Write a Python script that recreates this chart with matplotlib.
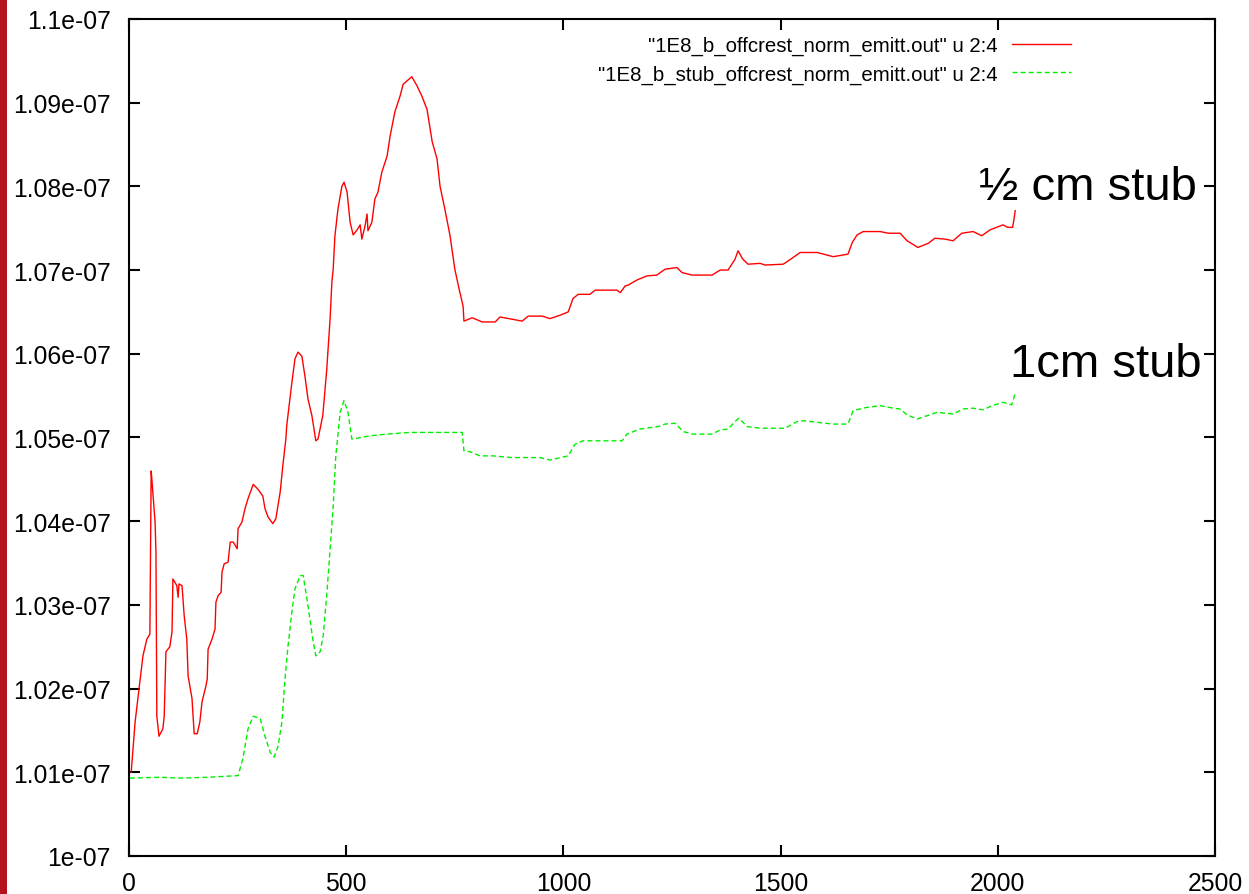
import matplotlib
matplotlib.use("Agg")
import matplotlib.pyplot as plt
from matplotlib.patches import Rectangle
from matplotlib.ticker import FuncFormatter

plt.rcParams['font.family'] = ['Liberation Sans', 'DejaVu Sans']

# column 2 vs column 4 of the two emittance files (y in units of 1e-7)
red_x = [5, 14, 25, 32, 41, 48, 51, 53, 60, 62, 64, 69, 78, 81, 85, 94, 99, 101, 110, 113,
         115, 122, 127, 133, 136, 145, 150, 157, 163, 168, 177, 180, 182, 191, 198, 200, 205,
         212, 214, 219, 228, 233, 240, 249, 251, 260, 267, 274, 286, 297, 308, 313, 320, 331,
         338, 348, 354, 361, 363, 375, 382, 389, 398, 405, 412, 421, 430, 435, 446, 455, 463,
         467, 470, 474, 481, 490, 495, 502, 509, 516, 525, 532, 536, 543, 548, 550, 559, 566,
         573, 582, 594, 601, 612, 624, 631, 642, 651, 663, 674, 686, 698, 709, 716, 727, 739,
         750, 760, 769, 771, 790, 813, 843, 854, 884, 905, 919, 951, 969, 992, 1011, 1022,
         1034, 1061, 1073, 1123, 1131, 1142, 1149, 1169, 1192, 1215, 1234, 1261, 1273, 1296,
         1342, 1361, 1379, 1395, 1402, 1413, 1425, 1453, 1464, 1506, 1526, 1545, 1568, 1584,
         1621, 1655, 1665, 1676, 1690, 1729, 1748, 1775, 1791, 1816, 1840, 1855, 1878, 1897,
         1917, 1943, 1963, 1982, 2012, 2023, 2034, 2037, 2040]
red_y = [1.0100, 1.0160, 1.0208, 1.0239, 1.0259, 1.0265, 1.0460, 1.0447, 1.0399, 1.0363,
         1.0167, 1.0143, 1.0152, 1.0167, 1.0244, 1.0250, 1.0268, 1.0331, 1.0323, 1.0309,
         1.0325, 1.0323, 1.0287, 1.0259, 1.0215, 1.0188, 1.0146, 1.0146, 1.0160, 1.0184,
         1.0203, 1.0211, 1.0247, 1.0259, 1.0271, 1.0303, 1.0311, 1.0315, 1.0339, 1.0349,
         1.0351, 1.0375, 1.0375, 1.0367, 1.0391, 1.0399, 1.0415, 1.0427, 1.0444, 1.0438,
         1.0430, 1.0415, 1.0405, 1.0397, 1.0403, 1.0435, 1.0466, 1.0498, 1.0514, 1.0566,
         1.0594, 1.0602, 1.0597, 1.0573, 1.0546, 1.0526, 1.0496, 1.0498, 1.0526, 1.0580,
         1.0643, 1.0686, 1.0701, 1.0741, 1.0773, 1.0800, 1.0805, 1.0793, 1.0757, 1.0742,
         1.0748, 1.0754, 1.0737, 1.0752, 1.0767, 1.0747, 1.0757, 1.0785, 1.0793, 1.0817,
         1.0836, 1.0860, 1.0889, 1.0908, 1.0922, 1.0927, 1.0931, 1.0920, 1.0908, 1.0892,
         1.0853, 1.0833, 1.0800, 1.0773, 1.0741, 1.0701, 1.0677, 1.0657, 1.0639, 1.0643,
         1.0638, 1.0638, 1.0644, 1.0641, 1.0639, 1.0645, 1.0645, 1.0642, 1.0646, 1.0650,
         1.0666, 1.0671, 1.0671, 1.0676, 1.0676, 1.0673, 1.0681, 1.0682, 1.0688, 1.0693,
         1.0694, 1.0701, 1.0703, 1.0697, 1.0694, 1.0694, 1.0700, 1.0700, 1.0713, 1.0723,
         1.0713, 1.0707, 1.0708, 1.0706, 1.0707, 1.0714, 1.0721, 1.0721, 1.0721, 1.0716,
         1.0719, 1.0733, 1.0742, 1.0746, 1.0746, 1.0744, 1.0744, 1.0735, 1.0727, 1.0732,
         1.0738, 1.0737, 1.0735, 1.0744, 1.0746, 1.0741, 1.0748, 1.0754, 1.0751, 1.0751,
         1.0760, 1.0771]

green_x = [2, 71, 120, 180, 251, 262, 274, 286, 302, 313, 325, 334, 343, 352, 359, 366, 375,
           382, 394, 401, 412, 423, 430, 440, 447, 455, 463, 470, 476, 486, 495, 504, 513,
           555, 594, 647, 700, 767, 771, 785, 808, 838, 880, 946, 969, 1011, 1027, 1045, 1068,
           1135, 1146, 1176, 1218, 1234, 1257, 1276, 1298, 1342, 1361, 1379, 1395, 1404, 1423,
           1453, 1510, 1538, 1552, 1621, 1655, 1667, 1699, 1729, 1759, 1775, 1791, 1814, 1837,
           1860, 1897, 1920, 1943, 1966, 1987, 2012, 2032, 2036, 2040]
green_y = [1.0093, 1.0094, 1.0093, 1.0094, 1.0096, 1.0116, 1.0152, 1.0167, 1.0164, 1.0143,
           1.0124, 1.0118, 1.0131, 1.0160, 1.0211, 1.0251, 1.0292, 1.0319, 1.0335, 1.0335,
           1.0299, 1.0259, 1.0239, 1.0244, 1.0263, 1.0311, 1.0367, 1.0418, 1.0478, 1.0530,
           1.0544, 1.0530, 1.0498, 1.0502, 1.0504, 1.0506, 1.0506, 1.0506, 1.0484, 1.0483,
           1.0478, 1.0478, 1.0476, 1.0476, 1.0473, 1.0478, 1.0492, 1.0496, 1.0496, 1.0496,
           1.0504, 1.0510, 1.0513, 1.0516, 1.0517, 1.0507, 1.0504, 1.0504, 1.0509, 1.0510,
           1.0519, 1.0523, 1.0513, 1.0511, 1.0511, 1.0519, 1.0520, 1.0516, 1.0516, 1.0532,
           1.0536, 1.0538, 1.0535, 1.0534, 1.0527, 1.0522, 1.0526, 1.0530, 1.0528, 1.0534,
           1.0535, 1.0533, 1.0538, 1.0542, 1.0539, 1.0545, 1.0554]

red_label = '"1E8_b_offcrest_norm_emitt.out" u 2:4'
green_label = '"1E8_b_stub_offcrest_norm_emitt.out" u 2:4'

x_ticks = [0, 500, 1000, 1500, 2000, 2500]
y_ticks = [1.00, 1.01, 1.02, 1.03, 1.04, 1.05, 1.06, 1.07, 1.08, 1.09, 1.10]

fig = plt.figure(figsize=(12.49, 8.95), dpi=100)
ax = fig.add_axes([0.1033, 0.0425, 0.8695, 0.9352])

# slide edge bar
fig.patches.append(Rectangle((0, 0), 0.0056, 1, transform=fig.transFigure,
                             facecolor='#b5121b', edgecolor='none'))

ax.plot(red_x, [v * 1e-7 for v in red_y], color='#ff0000', lw=1.0, label=red_label)
ax.plot(green_x, [v * 1e-7 for v in green_y], color='#00ee00', lw=1.0,
        dashes=(3.6, 2.2), label=green_label)

ax.set_xlim(0, 2500)
ax.set_ylim(1.0e-7, 1.1e-7)
ax.set_xticks(x_ticks)
ax.set_yticks([v * 1e-7 for v in y_ticks])
ax.yaxis.set_major_formatter(FuncFormatter(lambda v, p: '%g' % v))
ax.xaxis.set_major_formatter(FuncFormatter(lambda v, p: '%d' % v))
ax.tick_params(direction='in', length=8, width=1.5, top=True, right=True,
               labelsize=17.8, pad=13)
ax.tick_params(axis='x', pad=11)
for s in ax.spines.values():
    s.set_linewidth(1.5)

ax.legend(loc='upper right', bbox_to_anchor=(0.8674, 0.98), frameon=False,
          markerfirst=False, fontsize=14.7, handlelength=2.9, handletextpad=0.7,
          labelspacing=0.47, borderpad=0, borderaxespad=0)

ax.text(2459, 1.0785e-7, '½ cm stub', fontsize=34, ha='right', va='baseline')
ax.text(2470, 1.05735e-7, '1cm stub', fontsize=34, ha='right', va='baseline')

fig.savefig('out.png', dpi=100)
